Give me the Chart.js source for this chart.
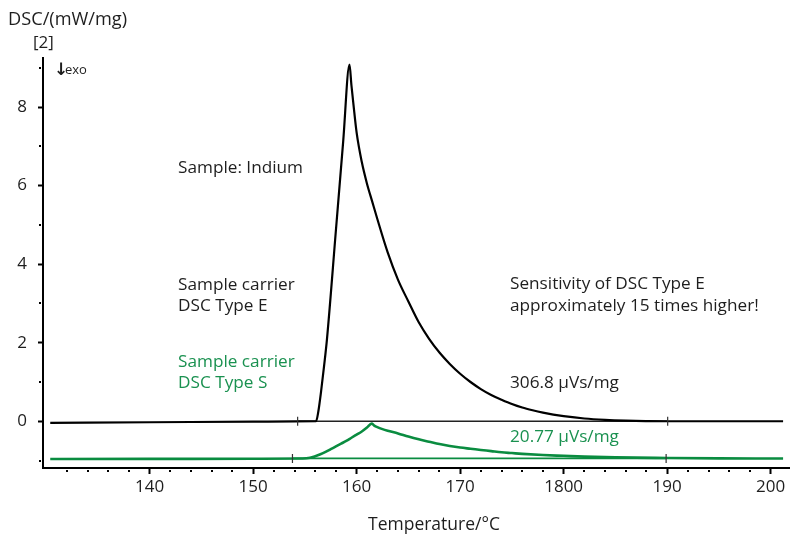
<!DOCTYPE html>
<html>
<head>
<meta charset="utf-8">
<script src="https://cdn.jsdelivr.net/npm/chart.js@4/dist/chart.umd.min.js"></script>
<style>
html,body{margin:0;padding:0;background:#fff;}
#c{display:block;}
</style>
</head>
<body>
<canvas id="c" width="795" height="541"></canvas>
<script>
// ---- data ----
const typeETemps  = [130.4,140,150,154,156.08,156.3,156.56,156.85,157.13,158.0,158.7,159.31,159.5,159.7,160.0,160.5,161.0,161.5,162.0,163.0,164.0,165.0,166.0,167.0,168.0,169.0,170.0,171.0,172.0,173.0,174.0,175.0,176.0,177.0,178.0,179.0,180.0,182.0,184.0,186.0,188.0,190.0,195.0,201.2];
const typeEValues = [-0.04,-0.025,-0.01,-0.003,0.0,0.25,0.75,1.4,2.08,4.87,7.12,9.08,8.55,8.05,7.35,6.6,6.05,5.6,5.15,4.3,3.6,3.05,2.52,2.1,1.75,1.46,1.21,1.0,0.82,0.67,0.55,0.44,0.35,0.28,0.22,0.17,0.13,0.07,0.035,0.015,0.005,0.0,0.0,0.0];

const typeSTemps  = [130.4,140,150,154.8,155.5,156.0,156.5,157.0,157.5,158.0,158.5,159.0,159.5,160.0,160.5,161.0,161.45,161.7,162.0,162.5,163.0,164.0,165.0,166.0,167.0,168.0,169.0,170.0,171.0,172.0,173.0,174.0,175.0,176.0,178.0,180.0,182.0,185.0,190.0,195.0,201.2];
const typeSValues = [-0.96,-0.958,-0.955,-0.95,-0.93,-0.89,-0.84,-0.78,-0.71,-0.64,-0.57,-0.50,-0.42,-0.34,-0.26,-0.16,-0.06,-0.11,-0.15,-0.2,-0.24,-0.31,-0.39,-0.46,-0.52,-0.58,-0.63,-0.67,-0.70,-0.73,-0.76,-0.79,-0.81,-0.83,-0.86,-0.88,-0.90,-0.92,-0.935,-0.945,-0.95];

const typeEBaseTemps  = [154.3,190.05];
const typeEBaseValues = [0.0,0.0];
const typeSBaseTemps  = [153.8,189.9];
const typeSBaseValues = [-0.945,-0.945];

const xTickValues = [140,150,160,170,180,190,200];
const xTickLabels = ['140','150','160','170','1800','190','200'];
const xMinorTicks = [132,134,136,138,142,144,146,148,152,154,156,158,162,164,166,168,172,174,176,178,182,184,186,188,192,194,196,198];
const yTickValues = [0,2,4,6,8];
const yTickLabels = ['0','2','4','6','8'];
const yMinorTicks = [-1,1,3,5,7,9];

const xMin = 129.7, xMax = 201.8, yMin = -1.19, yMax = 9.25;

const BLACK = '#000000';
const GREEN = '#0a8c40';
const GREEN_TEXT = '#1a9150';
const TEXT = '#1e1e1e';
const FONT = '"Open Sans", "Noto Sans", sans-serif';

const annotations = [
  {text:'Sample: Indium', x:178, y:168, color:TEXT},
  {text:'Sample carrier', x:178, y:285, color:TEXT},
  {text:'DSC Type E', x:178, y:306, color:TEXT},
  {text:'Sample carrier', x:178, y:362, color:GREEN_TEXT},
  {text:'DSC Type S', x:178, y:383, color:GREEN_TEXT},
  {text:'Sensitivity of DSC Type E', x:510, y:284, color:TEXT},
  {text:'approximately 15 times higher!', x:510, y:306, color:TEXT},
  {text:'306.8 \u00b5Vs/mg', x:510, y:383, color:TEXT},
  {text:'20.77 \u00b5Vs/mg', x:510, y:437, color:GREEN_TEXT}
];

function pts(xs, ys){ return xs.map((x,i)=>({x:x, y:ys[i]})); }

const extras = {
  id:'extras',
  afterDraw(chart){
    const ctx = chart.ctx;
    const xs = chart.scales.x, ys = chart.scales.y;
    const area = chart.chartArea;
    ctx.save();
    ctx.fillStyle = '#000';
    xMinorTicks.forEach(v=>{
      const px = xs.getPixelForValue(v);
      ctx.fillRect(Math.round(px)-1, area.bottom+2, 2, 2);
    });
    yMinorTicks.forEach(v=>{
      const py = ys.getPixelForValue(v);
      ctx.fillRect(area.left-4, Math.round(py)-1, 2, 2);
    });
    ctx.textBaseline = 'middle';
    ctx.textAlign = 'left';
    ctx.font = '17.2px ' + FONT;
    annotations.forEach(a=>{
      ctx.fillStyle = a.color;
      ctx.fillText(a.text, a.x, a.y);
    });
    ctx.fillStyle = TEXT;
    ctx.font = '18.2px ' + FONT;
    ctx.fillText('DSC/(mW/mg)', 8, 20);
    ctx.font = '17px ' + FONT;
    ctx.fillText('[2]', 33, 43);
    ctx.font = 'bold 17px "DejaVu Sans", sans-serif';
    ctx.fillText('\u2193', 54, 71);
    ctx.font = '13px ' + FONT;
    ctx.fillText('exo', 65, 70);
    ctx.font = '17.5px ' + FONT;
    ctx.textAlign = 'center';
    ctx.fillText('Temperature/\u00b0C', 434, 525);
    ctx.restore();
  }
};

new Chart(document.getElementById('c'), {
  type:'scatter',
  data:{
    datasets:[
      {data:pts(typeETemps,typeEValues), showLine:true, borderColor:BLACK, borderWidth:2.2, pointRadius:0, cubicInterpolationMode:'monotone', order:1},
      {data:pts(typeEBaseTemps,typeEBaseValues), showLine:true, borderColor:'#222', borderWidth:1.3, pointRadius:0, order:2},
      {data:pts(typeSTemps,typeSValues), showLine:true, borderColor:GREEN, borderWidth:2.6, pointRadius:0, cubicInterpolationMode:'monotone', order:1},
      {data:pts(typeSBaseTemps,typeSBaseValues), showLine:true, borderColor:GREEN, borderWidth:1.6, pointRadius:0, order:2},
      {data:pts(typeEBaseTemps,typeEBaseValues), showLine:false, pointStyle:'line', rotation:90, pointRadius:4.5, borderColor:'#333', borderWidth:1.2, backgroundColor:'#333', order:0},
      {data:pts(typeSBaseTemps,typeSBaseValues), showLine:false, pointStyle:'line', rotation:90, pointRadius:4.5, borderColor:'#333', borderWidth:1.2, backgroundColor:'#333', order:0}
    ]
  },
  options:{
    responsive:false,
    animation:false,
    devicePixelRatio:1,
    layout:{padding:{top:58,right:2,left:0,bottom:0}},
    plugins:{legend:{display:false}, tooltip:{enabled:false}},
    scales:{
      x:{
        type:'linear', min:xMin, max:xMax,
        afterBuildTicks(scale){ scale.ticks = xTickValues.map(v=>({value:v})); },
        afterFit(scale){ scale.height = 73; },
        ticks:{ callback:(v,i)=>xTickLabels[i], color:TEXT, font:{family:FONT,size:17}, padding:3, maxRotation:0, autoSkip:false },
        grid:{ drawOnChartArea:false, drawTicks:true, tickLength:6, tickColor:'#000', tickWidth:2 },
        border:{ display:true, color:'#000', width:2 }
      },
      y:{
        type:'linear', min:yMin, max:yMax,
        afterBuildTicks(scale){ scale.ticks = yTickValues.map(v=>({value:v})); },
        afterFit(scale){ scale.width = 43; },
        ticks:{ callback:(v,i)=>yTickLabels[i], color:TEXT, font:{family:FONT,size:17}, padding:11, crossAlign:'near' },
        grid:{ drawOnChartArea:false, drawTicks:true, tickLength:5, tickColor:'#000', tickWidth:2 },
        border:{ display:true, color:'#000', width:2 }
      }
    }
  },
  plugins:[extras]
});
</script>
</body>
</html>
